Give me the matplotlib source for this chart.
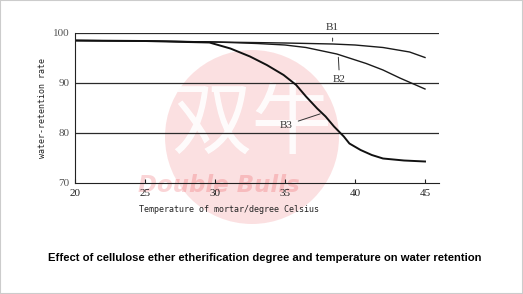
import matplotlib
matplotlib.use('Agg')
import matplotlib.pyplot as plt
from matplotlib.patches import Ellipse, Rectangle

# data
t_b1 = [20, 25, 30, 35, 38.4, 40, 42, 43.9, 45]
b1 = [98.5, 98.4, 98.2, 98.0, 97.8, 97.6, 97.1, 96.2, 95.1]

t_b2 = [20, 25, 30, 33, 35, 36.5, 38.7, 40.8, 42, 43.2, 45]
b2 = [98.5, 98.4, 98.2, 97.9, 97.6, 97.1, 95.8, 93.9, 92.6, 91.0, 88.8]

t_b3 = [20, 25, 28, 29.6, 31.1, 32.5, 33.7, 34.9, 35.8, 36.5, 37.3, 37.9,
        38.5, 39.2, 39.6, 40.4, 41.2, 42, 43.5, 45]
b3 = [98.5, 98.4, 98.2, 98.1, 96.9, 95.3, 93.6, 91.6, 89.6, 87.3, 84.9, 83.3,
      81.3, 79.3, 77.9, 76.6, 75.6, 74.9, 74.5, 74.3]

xticks = [20, 25, 30, 35, 40, 45]
yticks = [70, 80, 90, 100]
grid_levels = [80, 90, 100]

fig = plt.figure(figsize=(5.23, 2.94), dpi=100)
ax = fig.add_axes([75/523, 111/294, 364/523, 150/294])
ax.set_facecolor('none')
ax.set_zorder(2)

for g in grid_levels:
    ax.axhline(g, color='#2a2a2a', lw=0.9, zorder=1)

ax.plot(t_b1, b1, color='#1a1a1a', lw=1.0, zorder=2)
ax.plot(t_b2, b2, color='#1a1a1a', lw=1.0, zorder=2)
ax.plot(t_b3, b3, color='#111111', lw=1.4, zorder=2)

ax.set_xlim(20, 46)
ax.set_ylim(70, 100)
ax.set_xticks(xticks)
ax.set_yticks(yticks)
ax.spines['top'].set_visible(False)
ax.spines['right'].set_visible(False)
ax.spines['left'].set_color('#222')
ax.spines['bottom'].set_color('#222')
ax.tick_params(axis='x', direction='in', length=3, pad=4, labelsize=8, colors='#222')
ax.tick_params(axis='y', length=0, pad=4, labelsize=8, labelcolor='#555')
for lab in ax.get_xticklabels() + ax.get_yticklabels():
    lab.set_family('Liberation Serif')

ax.set_ylabel('water-retention rate', family='DejaVu Sans Mono', fontsize=6, color='#222')
ax.yaxis.set_label_coords(-0.077, 0.5)
ax.set_xlabel('Temperature of mortar/degree Celsius', family='DejaVu Sans Mono',
              fontsize=6, color='#222')
ax.xaxis.set_label_coords(0.423, -0.145)

lbl = dict(fontsize=8, family='Liberation Serif', color='#333', ha='center', va='center',
           annotation_clip=False, arrowprops=dict(arrowstyle='-', lw=0.7, color='#333'))
ax.annotate('B1', xy=(38.4, 97.8), xytext=(38.4, 101.0), **lbl)
ax.annotate('B2', xy=(38.8, 95.7), xytext=(38.9, 90.6), **lbl)
ax.annotate('B3', xy=(37.7, 84.0), xytext=(35.1, 81.6), **lbl)

# watermark, sits under the axes
fig.patches.append(Ellipse((252/523, 1 - 137/294), 174/523, 174/294,
                           transform=fig.transFigure, facecolor='#e6141e',
                           alpha=0.13, edgecolor='none', zorder=0))
fig.text(252/523, 1 - 124/294, '双牛', family=['Noto Sans CJK SC', 'DejaVu Sans'],
         fontsize=58, color='white', alpha=0.9, ha='center', va='center', zorder=1)
fig.text(219/523, 1 - 185/294, 'Double Bulls', fontsize=16.5, fontweight='bold',
         style='italic', color='#e6141e', alpha=0.18, ha='center', va='center', zorder=1)

fig.text(265/523, 1 - 258/294,
         'Effect of cellulose ether etherification degree and temperature on water retention',
         fontsize=8.1, fontweight='bold', family='Liberation Sans', ha='center', va='center')

fig.patches.append(Rectangle((0, 0), 1, 1, transform=fig.transFigure, fill=False,
                             edgecolor='#cccccc', lw=1.5))

fig.savefig('out.png', dpi=100)
